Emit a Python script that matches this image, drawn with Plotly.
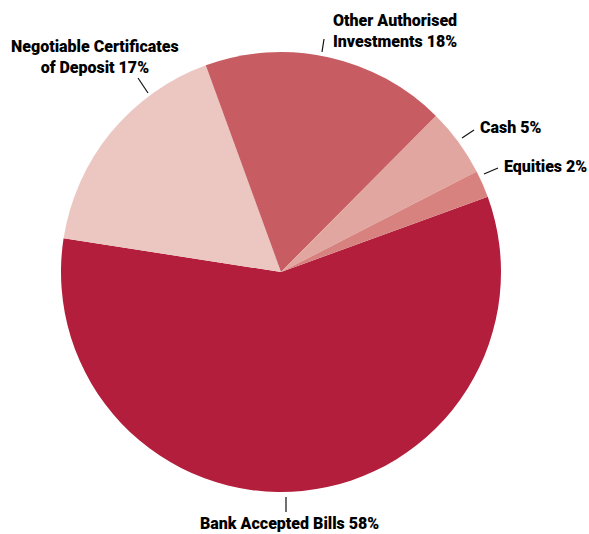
import plotly.graph_objects as go

labels = ["Bank Accepted Bills", "Negotiable Certificates of Deposit", "Other Authorised Investments", "Cash", "Equities"]
values = [58, 17, 18, 5, 2]
colors = ["#B21E3B", "#ECC7C2", "#C75D62", "#E2A6A1", "#D8827F"]
label_texts = ["Bank Accepted Bills 58%", "Negotiable Certificates<br>of Deposit 17%", "Other Authorised<br>Investments 18%", "Cash 5%", "Equities 2%"]

W, H = 589, 534
cx, cy, r = 281, 272, 220

fig = go.Figure(go.Pie(
    labels=labels, values=values, sort=False, direction="clockwise", rotation=70,
    marker=dict(colors=colors, line=dict(width=0)),
    textinfo="none", hoverinfo="label+percent", showlegend=False,
    domain=dict(x=[(cx - r) / W, (cx + r) / W], y=[(H - cy - r) / H, (H - cy + r) / H]),
))

font = dict(family="Roboto", size=16, color="#000000", weight=900)

# label positions (px) and leader lines (px)
ann = [
    (label_texts[0], 289, 523),
    (label_texts[1], 95, 57),
    (label_texts[2], 395, 31),
    (label_texts[3], 510, 127),
    (label_texts[4], 545, 166),
]
lines = [
    (286, 497, 286, 512),
    (138, 78, 148, 93),
    (324, 39, 322, 52),
    (462, 138, 474, 130),
    (484, 174, 498, 168),
]

for t, x, y in ann:
    fig.add_annotation(text=t, x=x / W, y=1 - y / H, xref="paper", yref="paper",
                       showarrow=False, font=font, align="center", xanchor="center", yanchor="middle")
for x0, y0, x1, y1 in lines:
    fig.add_shape(type="line", x0=x0 / W, y0=1 - y0 / H, x1=x1 / W, y1=1 - y1 / H,
                  xref="paper", yref="paper", line=dict(color="#111111", width=1.2))

fig.update_layout(width=W, height=H, margin=dict(l=0, r=0, t=0, b=0),
                  paper_bgcolor="white", plot_bgcolor="white")
fig.write_html("out.html")
